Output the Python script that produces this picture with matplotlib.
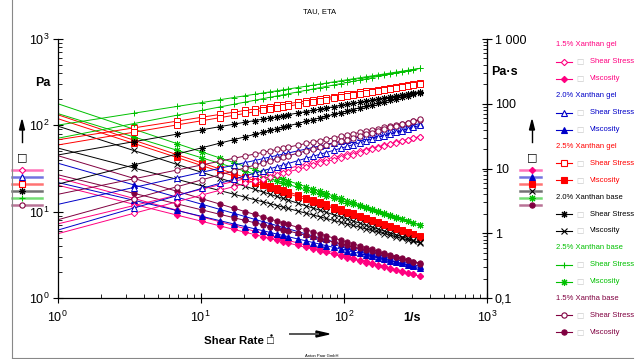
import matplotlib.pyplot as plt
import numpy as np
from matplotlib.lines import Line2D
from matplotlib.ticker import FixedLocator, LogLocator, NullFormatter

plt.rcParams['font.family'] = ['Liberation Sans', 'DejaVu Sans']
plt.rcParams['mathtext.fontset'] = 'custom'
plt.rcParams['mathtext.rm'] = 'Liberation Sans'

# shear rate [1/s], first point lies left of the plotted range
shear_rate = [0.34, 3.4, 6.8, 10.2, 13.6, 17.0, 20.4, 23.8, 27.2, 30.6, 34.0, 37.4, 40.8,
              47.6, 54.4, 61.2, 68.0, 74.8, 85.0, 95.2, 105.4, 115.6, 129.2, 142.8, 156.4,
              173.4, 190.4, 210.8, 231.2, 255.0, 278.8, 306.0, 340.0]

# shear stress [Pa], two runs per sample
gel15_run1 = [4.68, 11.75, 15.5, 18.2, 20.5, 22.4, 24.1, 25.6, 27.0, 28.3, 29.5, 30.7, 31.7,
              33.7, 35.6, 37.3, 38.9, 40.5, 42.6, 44.6, 46.4, 48.1, 50.3, 52.4, 54.3,
              56.6, 58.8, 61.2, 63.5, 66.1, 68.5, 71.1, 74.1]
gel15_run2 = [3.43, 9.55, 13.0, 15.6, 17.7, 19.5, 21.2, 22.7, 24.1, 25.4, 26.6, 27.8, 28.9,
              30.9, 32.8, 34.6, 36.2, 37.8, 40.0, 42.1, 44.0, 45.9, 48.2, 50.4, 52.5,
              54.9, 57.3, 60.0, 62.5, 65.2, 67.9, 70.7, 74.1]
gel20_run1 = [8.13, 19.05, 24.6, 28.6, 31.8, 34.6, 37.0, 39.1, 41.1, 43.0, 44.7, 46.3, 47.8,
              50.6, 53.1, 55.5, 57.7, 59.9, 62.7, 65.3, 67.9, 70.3, 73.2, 76.0, 78.6,
              81.6, 84.5, 87.7, 90.8, 94.3, 97.3, 100.7, 104.7]
gel20_run2 = [3.63, 11.0, 15.3, 18.6, 21.3, 23.7, 25.9, 27.9, 29.8, 31.5, 33.1, 34.7, 36.1,
              38.9, 41.5, 43.9, 46.2, 48.3, 51.4, 54.3, 57.0, 59.6, 62.9, 65.8, 69.5,
              72.4, 75.7, 79.5, 83.1, 87.1, 90.9, 95.1, 100.0]
gel25_run1 = [51.3, 93.3, 111.7, 124.2, 133.8, 141.8, 148.7, 154.7, 160.2, 165.2, 169.8, 174.1, 178.1,
              185.4, 191.9, 197.9, 203.3, 208.4, 215.5, 221.9, 227.9, 233.4, 240.3, 246.6, 252.5,
              259.4, 265.7, 272.8, 279.5, 286.7, 293.5, 300.6, 309.0]
gel25_run2 = [43.7, 83.2, 101.0, 113.1, 122.6, 130.5, 137.3, 143.4, 148.8, 153.9, 158.5, 162.8, 166.8,
              174.2, 180.8, 186.8, 192.4, 197.7, 204.8, 211.4, 217.6, 223.3, 230.3, 237.0, 243.1,
              250.1, 256.7, 264.2, 271.0, 278.6, 285.7, 293.2, 302.0]
base20_run1 = [33.1, 64.6, 78.9, 88.8, 96.5, 103.0, 108.7, 113.5, 118.0, 122.1, 125.9, 129.4, 132.7,
               138.8, 144.2, 149.3, 154.0, 158.2, 164.2, 169.8, 174.8, 179.5, 185.4, 189.7, 195.9,
               201.9, 207.5, 213.6, 219.5, 225.7, 231.8, 237.3, 245.5]
base20_run2 = [13.2, 34.7, 46.4, 55.0, 62.1, 68.2, 73.6, 78.5, 83.0, 87.3, 91.2, 95.0, 98.5,
               105.0, 111.1, 116.6, 122.0, 127.0, 134.0, 140.6, 146.6, 152.5, 159.8, 166.1, 173.2,
               180.8, 187.9, 196.3, 204.0, 212.6, 220.7, 229.5, 239.9]
base25_run1 = [75.9, 138.0, 165.3, 183.7, 198.0, 209.8, 219.9, 228.9, 237.0, 244.4, 251.2, 257.5, 263.4,
               274.2, 283.9, 292.7, 300.8, 308.3, 318.8, 328.3, 337.1, 345.3, 355.4, 364.8, 373.5,
               383.7, 393.1, 403.6, 413.5, 424.1, 434.1, 444.7, 457.1]
base25_run2 = [50.1, 104.7, 130.7, 148.8, 163.2, 175.3, 185.8, 194.7, 203.7, 211.5, 218.8, 225.5, 231.9,
               243.7, 254.3, 264.0, 273.1, 281.5, 293.3, 304.2, 314.2, 323.6, 335.2, 346.2, 356.5,
               368.5, 378.4, 392.3, 404.0, 416.9, 429.0, 441.8, 457.1]
base15_run1 = [11.0, 24.0, 30.3, 34.8, 38.4, 41.5, 44.1, 46.5, 48.6, 50.6, 52.5, 54.2, 55.8,
               58.9, 61.6, 64.1, 66.4, 68.6, 71.7, 74.5, 77.1, 79.6, 82.7, 85.5, 88.2,
               91.3, 94.4, 97.6, 100.7, 104.1, 107.3, 110.8, 114.8]
base15_run2 = [4.9, 14.1, 19.4, 23.4, 26.7, 29.6, 32.2, 34.6, 36.8, 38.8, 40.7, 42.6, 44.3,
               47.6, 50.6, 53.4, 56.0, 58.5, 62.1, 65.4, 68.5, 71.5, 75.3, 78.8, 82.2,
               86.2, 90.0, 94.4, 98.4, 102.9, 107.2, 111.9, 117.5]

sample_names = ['1.5% Xanthan gel', '2.0% Xanthan gel', '2.5% Xanthan gel',
                '2.0% Xanthan base', '2.5% Xanthan base', '1.5% Xantha base']
colors = ['#ff0080', '#0000c8', '#ff0000', '#000000', '#00c000', '#800040']
runs = [(gel15_run1, gel15_run2), (gel20_run1, gel20_run2), (gel25_run1, gel25_run2),
        (base20_run1, base20_run2), (base25_run1, base25_run2), (base15_run1, base15_run2)]

AST = (8, 2, 0)
# (marker, filled) for shear stress and viscosity
stress_mk = [('D', False), ('^', False), ('s', False), (AST, True), ('+', True), ('o', False)]
visc_mk = [('D', True), ('^', True), ('s', True), ('x', True), (AST, True), ('o', True)]
msize = {'D': 3.2, '^': 4.0, 's': 4.0, 'o': 3.8, '+': 5.0, 'x': 4.0, AST: 5.0}

W, H = 640, 359
fig = plt.figure(figsize=(W / 100, H / 100), dpi=100)

def fx(px):
    return px / W

def fy(py):
    return 1 - py / H

ax = fig.add_axes([fx(57.5), fy(298), (487 - 57.5) / W, (298 - 39) / H])
ax2 = ax.twinx()
ax.set_zorder(1)
ax.patch.set_visible(False)

sr = np.array(shear_rate)
for i in range(6):
    c = colors[i]
    for run in runs[i]:
        stress = np.array(run)
        m, filled = stress_mk[i]
        ax.plot(sr, stress, color=c, lw=0.7, marker=m, ms=msize[m], mew=0.7,
                mfc='white' if not filled else c, mec=c, clip_on=True)
        m, filled = visc_mk[i]
        ax2.plot(sr, stress / sr, color=c, lw=0.7, marker=m, ms=msize[m], mew=0.7,
                 mfc=c, mec=c, clip_on=True)

for a in (ax, ax2):
    a.set_xscale('log')
    a.set_yscale('log')
ax.set_xlim(1, 1000)
ax.set_ylim(1, 1000)
ax2.set_ylim(0.1, 1000)

ax.xaxis.set_major_locator(FixedLocator([1, 10, 100, 1000]))
ax.set_xticklabels([r'$10^{0}$', r'$10^{1}$', r'$10^{2}$', r'$10^{3}$'])
ax.yaxis.set_major_locator(FixedLocator([1, 10, 100, 1000]))
ax.set_yticklabels([r'$10^{0}$', r'$10^{1}$', r'$10^{2}$', r'$10^{3}$'])
ax2.yaxis.set_major_locator(FixedLocator([0.1, 1, 10, 100, 1000]))
ax2.set_yticklabels(['0,1', '1', '10', '100', '1 000'])
for a in (ax.xaxis, ax.yaxis, ax2.yaxis):
    a.set_minor_locator(LogLocator(base=10, subs=np.arange(2, 10)))
    a.set_minor_formatter(NullFormatter())

ax.tick_params(which='major', direction='inout', length=7, width=0.8, labelsize=9, pad=2)
ax.tick_params(axis='x', which='major', pad=5)
ax.tick_params(which='minor', direction='in', length=3, width=0.6)
ax.tick_params(top=False, right=False, which='both')
ax2.tick_params(which='major', direction='inout', length=7, width=0.8, labelsize=9, pad=2)
ax2.tick_params(which='minor', direction='in', length=3, width=0.6)
ax.spines['top'].set_visible(False)
ax2.spines['top'].set_visible(False)
ax2.spines['left'].set_visible(False)
ax2.spines['bottom'].set_visible(False)
for s in ('left', 'bottom'):
    ax.spines[s].set_linewidth(0.9)
ax2.spines['right'].set_linewidth(0.9)

# texts around the axes
fig.text(fx(320), fy(12), 'TAU, ETA', ha='center', va='center', fontsize=5.5)
fig.text(fx(43), fy(83), 'Pa', ha='center', va='center', fontsize=9, fontweight='bold')
fig.text(fx(491), fy(72), 'Pa·s', ha='left', va='center', fontsize=9, fontweight='bold')
fig.text(fx(412), fy(318), '1/s', ha='center', va='center', fontsize=9, fontweight='bold')
fig.text(fx(204), fy(341), 'Shear Rate \u25a1', ha='left', va='center', fontsize=8.2,
         fontweight='bold')
fig.add_artist(Line2D([fx(270.5)], [fy(335)], marker='.', ms=1.5, color='black', lw=0))
fig.text(fx(322), fy(356), 'Anton Paar GmbH', ha='center', va='center', fontsize=3)
fig.add_artist(plt.Line2D([fx(290), fx(318)], [fy(334), fy(334)], color='#555555', lw=1.4))
fig.patches.append(plt.Polygon([[fx(316), fy(331)], [fx(329), fy(334)], [fx(316), fy(337)]],
                               closed=True, color='black', transform=fig.transFigure,
                               figure=fig))

# up arrows and boxes beside both value axes
for xa in (22, 532):
    fig.add_artist(plt.Line2D([fx(xa), fx(xa)], [fy(142), fy(128)], color='black', lw=1.0))
    fig.patches.append(plt.Polygon([[fx(xa - 2.5), fy(130)], [fx(xa), fy(120)], [fx(xa + 2.5), fy(130)]],
                                   closed=True, color='black', transform=fig.transFigure,
                                   figure=fig))
    fig.text(fx(xa), fy(157.5), '\u25a1', ha='center', va='center', fontsize=8,
             fontweight='bold', family='DejaVu Sans')

mini_y = [170, 177, 184, 191, 198, 205]
for i in range(6):
    c = colors[i]
    y = fy(mini_y[i])
    fig.add_artist(Line2D([fx(12), fx(42)], [y, y], color=c, lw=1.8, alpha=0.55))
    m, filled = stress_mk[i]
    fig.add_artist(Line2D([fx(22)], [y], color=c, marker=m, ms=msize[m], mew=0.8,
                          mfc='white' if not filled else c, mec=c, lw=0))
    fig.add_artist(Line2D([fx(520), fx(541)], [y, y], color=c, lw=1.8, alpha=0.55))
    m, filled = visc_mk[i]
    fig.add_artist(Line2D([fx(532)], [y], color=c, marker=m, ms=msize[m], mew=0.8,
                          mfc=c, mec=c, lw=0))

# legend at the right
for i in range(6):
    c = colors[i]
    ty = 45 + 50.7 * i
    fig.text(fx(556), fy(ty), sample_names[i], color=c, fontsize=5.5, ha='left', va='center')
    for j, (label, mk) in enumerate((('Shear Stress', stress_mk[i]), ('Viscosity', visc_mk[i]))):
        y = fy(ty + 16.9 * (j + 1))
        m, filled = mk
        fig.add_artist(Line2D([fx(556), fx(572)], [y, y], color=c, lw=0.8))
        fig.add_artist(Line2D([fx(564)], [y], color=c, marker=m, ms=msize[m], mew=0.8,
                              mfc=c if filled else 'white', mec=c, lw=0))
        fig.text(fx(580), y, '\u25a1', color='#c8c8c8', fontsize=5.5, ha='center', va='center',
                 family='DejaVu Sans')
        fig.text(fx(590), y, label, color=c, fontsize=5.5, ha='left', va='center')

# outer frame
fig.add_artist(Line2D([fx(12), fx(12)], [fy(0), fy(358)], color='#888888', lw=0.8))
fig.add_artist(Line2D([fx(12), fx(633)], [fy(358), fy(358)], color='#888888', lw=0.8))

fig.savefig('out.png', dpi=100)
